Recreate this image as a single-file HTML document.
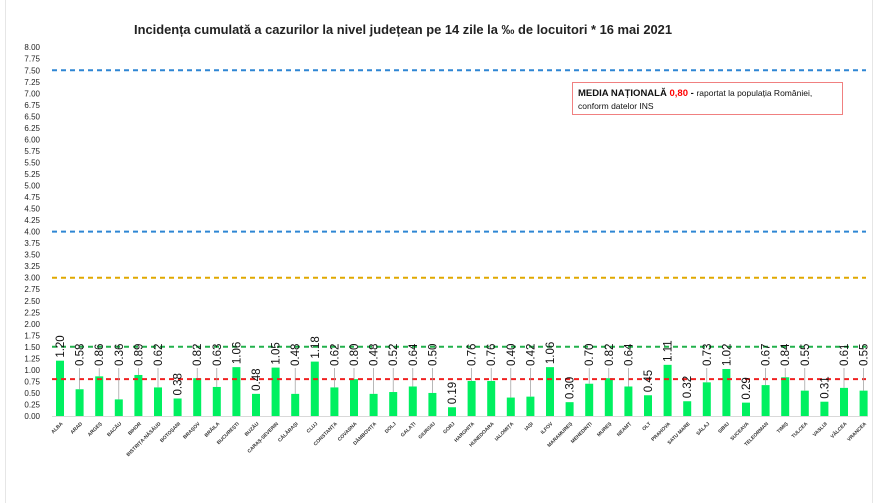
<!DOCTYPE html>
<html><head><meta charset="utf-8"><style>
html,body{margin:0;padding:0;background:#fff;}
svg{display:block;font-family:"Liberation Sans",sans-serif;}
</style></head><body>
<svg width="880" height="503" viewBox="0 0 880 503" xmlns="http://www.w3.org/2000/svg">
<rect x="0" y="0" width="880" height="503" fill="#fff"/>
<line x1="5.5" y1="0" x2="5.5" y2="503" stroke="#e6e6e6"/>
<line x1="872.5" y1="0" x2="872.5" y2="503" stroke="#e6e6e6"/>
<text x="403" y="34" font-size="12.9" font-weight="bold" text-anchor="middle" fill="#222">Incidența cumulată a cazurilor la nivel județean pe 14 zile la ‰ de locuitori *  16 mai 2021</text>
<g id="yaxis" font-size="8" fill="#222" text-anchor="end"></g>
<line x1="52" y1="70.2" x2="866" y2="70.2" stroke="#2e86d4" stroke-width="2" stroke-dasharray="5,4"/>
<line x1="52" y1="231.6" x2="866" y2="231.6" stroke="#2e86d4" stroke-width="2" stroke-dasharray="5,4"/>
<line x1="52" y1="277.7" x2="866" y2="277.7" stroke="#e0a800" stroke-width="2" stroke-dasharray="5,4"/>
<line x1="52" y1="346.8" x2="866" y2="346.8" stroke="#22b14c" stroke-width="2" stroke-dasharray="5,4"/>
<g id="bars"></g>
<line x1="52" y1="379.1" x2="866" y2="379.1" stroke="#f02020" stroke-width="2" stroke-dasharray="5,4"/>
<line x1="52" y1="416.5" x2="868" y2="416.5" stroke="#d9d9d9"/>
<g id="labels"></g>
<rect x="572.5" y="82.5" width="270" height="32" fill="#fff" stroke="#f08080"/>
<text x="578" y="96" font-size="9.5" fill="#111"><tspan font-weight="bold">MEDIA NAȚIONALĂ </tspan><tspan font-weight="bold" fill="#f00"> 0,80</tspan><tspan font-weight="bold"> - </tspan><tspan font-size="8.5">raportat la populația României,</tspan></text>
<text x="578" y="109" font-size="8.5" fill="#111">conform datelor INS</text>
</svg>
<script>
const ns="http://www.w3.org/2000/svg";
function el(p,t,a,txt){const e=document.createElementNS(ns,t);for(const k in a)e.setAttribute(k,a[k]);if(txt!==undefined)e.textContent=txt;p.appendChild(e);return e;}
const Y=v=>416-v*46.1;
const ya=document.getElementById('yaxis');
for(let i=0;i<=32;i++){const v=i*0.25;el(ya,'text',{x:40,y:Y(v)+3},v.toFixed(2));}
const names=["ALBA","ARAD","ARGEȘ","BACĂU","BIHOR","BISTRIȚA-NĂSĂUD","BOTOȘANI","BRAȘOV","BRĂILA","BUCUREȘTI","BUZĂU","CARAȘ-SEVERIN","CĂLĂRAȘI","CLUJ","CONSTANȚA","COVASNA","DÂMBOVIȚA","DOLJ","GALAȚI","GIURGIU","GORJ","HARGHITA","HUNEDOARA","IALOMIȚA","IAȘI","ILFOV","MARAMUREȘ","MEHEDINȚI","MUREȘ","NEAMȚ","OLT","PRAHOVA","SATU MARE","SĂLAJ","SIBIU","SUCEAVA","TELEORMAN","TIMIȘ","TULCEA","VASLUI","VÂLCEA","VRANCEA"];
const vals=[1.20,0.58,0.86,0.36,0.89,0.62,0.38,0.82,0.63,1.06,0.48,1.05,0.48,1.18,0.62,0.80,0.48,0.52,0.64,0.50,0.19,0.76,0.76,0.40,0.42,1.06,0.30,0.70,0.82,0.64,0.45,1.11,0.32,0.73,1.02,0.29,0.67,0.84,0.55,0.31,0.61,0.55];
const low=new Set(["ALBA","BOTOȘANI","BUCUREȘTI","BUZĂU","CARAȘ-SEVERIN","CLUJ","GORJ","ILFOV","MARAMUREȘ","OLT","PRAHOVA","SATU MARE","SUCEAVA","VASLUI","SIBIU"]);
const b=document.getElementById('bars'),l=document.getElementById('labels');
names.forEach((n,i)=>{const cx=60+i*19.6,v=vals[i],top=Y(v);
el(b,'rect',{x:cx-4,y:top,width:8,height:416-top,fill:'#00f060'});
let base;
if(low.has(n)){base=top-3;}else{base=Math.min(top-3,366);if(top-368>3)el(l,'line',{x1:cx,y1:368,x2:cx,y2:top,stroke:'#999','stroke-width':0.7});}
el(l,'text',{x:cx+4,y:base,'font-size':11.5,fill:'#111',transform:`rotate(-90 ${cx+4} ${base})`},v.toFixed(2));
el(l,'text',{x:cx+3,y:424,'font-size':5,fill:'#333','text-anchor':'end','font-weight':'bold',transform:`rotate(-45 ${cx+3} 424)`},n);
});
</script>
</body></html>
